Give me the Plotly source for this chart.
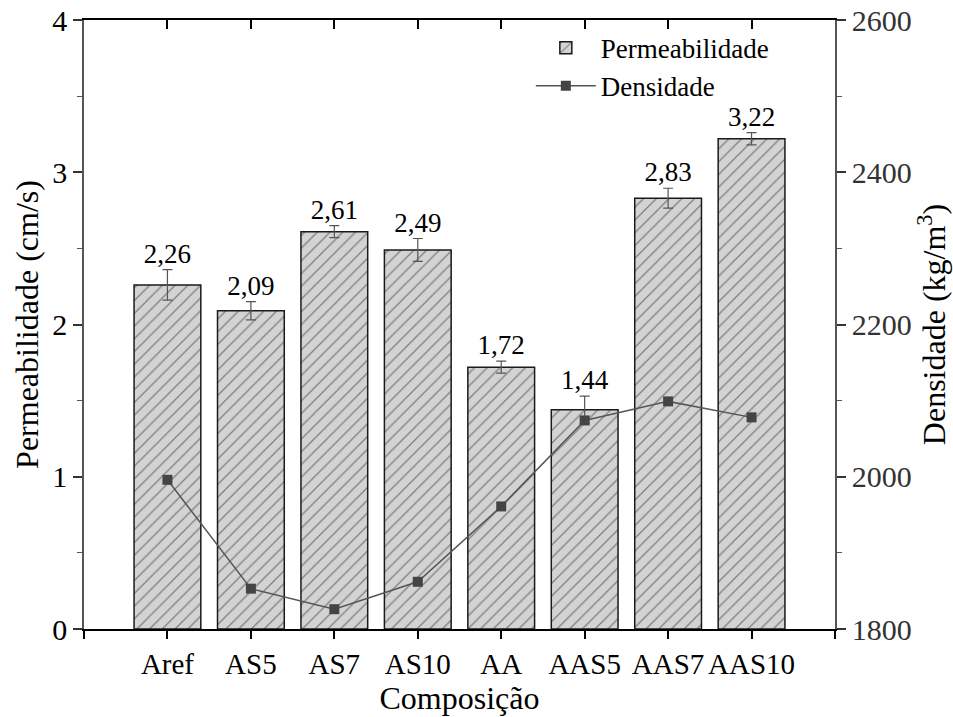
import plotly.graph_objects as go

categories = ["Aref", "AS5", "AS7", "AS10", "AA", "AAS5", "AAS7", "AAS10"]
permeabilidade = [2.26, 2.09, 2.61, 2.49, 1.72, 1.44, 2.83, 3.22]
perm_err = [0.10, 0.06, 0.04, 0.075, 0.04, 0.09, 0.065, 0.04]
densidade = [1996, 1853, 1826, 1862, 1961, 2074, 2099, 2078]
left_ticks = [0, 1, 2, 3, 4]
right_ticks = [1800, 2000, 2200, 2400, 2600]

xpos = list(range(1, len(categories) + 1))
labels = [f"{v:.2f}".replace(".", ",") for v in permeabilidade]
label_y = [v + e for v, e in zip(permeabilidade, perm_err)]

FONT = "Times New Roman, Liberation Serif, serif"

fig = go.Figure()
fig.add_trace(go.Bar(
    x=xpos, y=permeabilidade, width=0.8, name="Permeabilidade",
    marker=dict(color="#d3d3d3", line=dict(color="#1a1a1a", width=1.5),
                pattern=dict(shape="/", fgcolor="#2a2a2a", bgcolor="#d3d3d3",
                             size=9, solidity=0.14)),
    error_y=dict(type="data", array=perm_err, color="#555555", thickness=1.2, width=5),
))
fig.add_trace(go.Scatter(
    x=xpos, y=densidade, name="Densidade", yaxis="y2", mode="lines+markers",
    line=dict(color="#555555", width=1.5),
    marker=dict(symbol="square", size=10, color="#444444"),
))
fig.add_trace(go.Scatter(
    x=xpos, y=label_y, text=labels, mode="text", textposition="top center",
    textfont=dict(family=FONT, size=27, color="black"), showlegend=False,
    hoverinfo="skip", cliponaxis=False,
))
fig.add_trace(go.Scatter(x=[0, 9], y=[0, 0], xaxis="x2", mode="none",
                         showlegend=False, hoverinfo="skip"))

fig.update_layout(
    width=953, height=717,
    margin=dict(l=84, r=118, t=20, b=88, autoexpand=False),
    paper_bgcolor="white", plot_bgcolor="white",
    font=dict(family=FONT, size=27, color="black"),
    bargap=0.2,
    showlegend=True,
    legend=dict(x=0.595, y=0.994, xanchor="left", yanchor="top",
                bgcolor="rgba(0,0,0,0)", font=dict(family=FONT, size=27),
                itemwidth=60, tracegroupgap=0),
    xaxis=dict(range=[0, 9], tickvals=xpos, ticktext=categories,
               tickangle=0, automargin=False,
               showline=True, linecolor="black", linewidth=2,
               ticks="outside", ticklen=8, tickwidth=1.5, tickcolor="black",
               minor=dict(ticks="outside", ticklen=8, tickwidth=1.5,
                          tick0=0, dtick=1, tickcolor="black"),
               showgrid=False, zeroline=False,
               title=dict(text="Composição", standoff=2),
               tickfont=dict(family=FONT, size=29)),
    xaxis2=dict(overlaying="x", side="top", range=[0, 9],
                tickvals=xpos, showticklabels=False,
                showline=True, linecolor="black", linewidth=2,
                ticks="inside", ticklen=9, tickwidth=1.5, tickcolor="black",
                showgrid=False, zeroline=False),
    yaxis=dict(range=[0, 4], tickvals=left_ticks, automargin=False,
               showline=True, linecolor="#555555", linewidth=1.5,
               ticks="outside", ticklen=9, tickwidth=1.5, tickcolor="#333333",
               minor=dict(ticks="outside", ticklen=5, tickwidth=1, dtick=0.5,
                          tickcolor="#555555"),
               showgrid=False, zeroline=False,
               title=dict(text="Permeabilidade (cm/s)", standoff=4),
               tickfont=dict(family=FONT, size=30)),
    yaxis2=dict(range=[1800, 2600], tickvals=right_ticks, overlaying="y",
                side="right", automargin=False,
                showline=True, linecolor="#555555", linewidth=1.5,
                ticks="outside", ticklen=9, tickwidth=1.5, tickcolor="#333333",
                minor=dict(ticks="outside", ticklen=5, tickwidth=1, dtick=100,
                           tickcolor="#555555"),
                showgrid=False, zeroline=False,
                title=dict(text="Densidade (kg/m<sup>3</sup>)", standoff=10),
                tickfont=dict(family=FONT, size=30, color="#333333")),
)

fig.write_html("out.html")
